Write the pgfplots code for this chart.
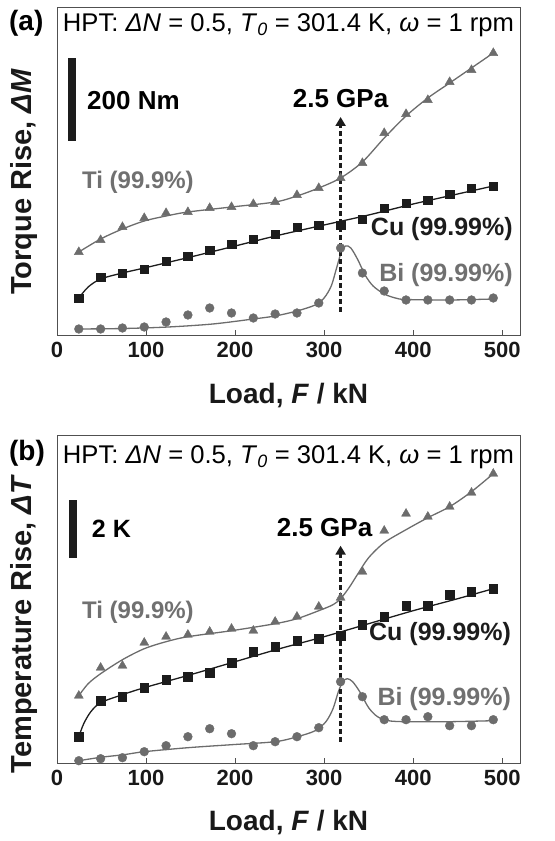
\documentclass[border=0pt]{standalone}
\usepackage{fontspec}
\setmainfont{Liberation Sans}
\usepackage{pgfplots}
\pgfplotsset{compat=1.18}
\usetikzlibrary{arrows.meta}
\definecolor{tigray}{RGB}{108,108,108}
\definecolor{txtgray}{RGB}{112,112,112}
\definecolor{cublack}{RGB}{28,28,28}
\definecolor{frame}{RGB}{80,80,80}

\tikzset{arr/.style={line width=2.2bp, cublack, dash pattern=on 5bp off 3bp, -{Triangle[length=9bp,width=10bp]}}}

\pgfplotsset{
  panel/.style={
    scale only axis, width=463bp, height=328bp,
    xmin=0, xmax=520, ymin=0, ymax=328,
    xtick={0,100,200,300,400,500}, ytick=\empty,
    tick align=inside, xtick pos=left, major tick length=6bp,
    axis line style={line width=1bp, color=frame},
    every tick/.style={line width=1bp, frame},
    tick label style={font=\fontsize{22bp}{24bp}\selectfont\bfseries, text=black!90},
    /pgf/number format/assume math mode=true,
    xticklabel style={yshift=-3bp},
    xlabel style={font=\fontsize{28bp}{30bp}\selectfont\bfseries, text=black!90,
      at={(axis description cs:0.5,-0.2043)}, anchor=base},
    ylabel style={font=\fontsize{29bp}{31bp}\selectfont\bfseries, text=black!90, anchor=base},
    clip=false,
  },
  tifit/.style={color=tigray, line width=1.3bp, smooth, no marks},
  cufit/.style={color=cublack, line width=1.3bp, smooth, no marks},
  bifit/.style={color=tigray, line width=1.3bp, smooth, no marks},
  timark/.style={only marks, mark=triangle*, mark size=5.2bp, color=tigray},
  cumark/.style={only marks, mark=square*, mark size=4.2bp, color=cublack},
  bimark/.style={only marks, mark=*, mark size=4.4bp, color=tigray},
}

\begin{document}
\begin{tikzpicture}
\useasboundingbox (0,0) rectangle (555bp,841bp);

% ---------------- panel (a) ----------------
\begin{axis}[panel, at={(57bp,505bp)}, anchor=south west,
  xlabel={Load, \textit{F} / kN},
  ylabel={Torque Rise, \textit{ΔM}},
  ylabel style={at={(axis description cs:-0.054,0.47)}}]
\addplot[tifit] coordinates {(24.5,84) (49,97) (73.5,107) (98,115) (122.5,120) (147,124) (196,129) (245,134) (269.5,140) (294,148) (318.5,158) (343,174) (367.5,198) (392,220) (416.5,238) (441,253) (465.5,268) (490,283)};
\addplot[cufit] coordinates {(24.5,38) (35,49) (49,57) (73.5,63) (98,68) (150,79) (200,90) (250,101) (300,111) (350,121) (400,132) (450,142) (490,150)};
\addplot[bifit] coordinates {(24.5,7) (75,7.5) (125,9) (175,12) (220.5,17) (245,20) (269.5,25) (290,31) (300,38) (308,50) (314,68) (319,83) (324,90) (330,88) (338,76) (346,61) (355,50) (367.5,42) (380,38) (392,36.5) (441,36) (490,37)};
\addplot[timark] coordinates {(24.5,84) (49,96) (73.5,109) (98,118) (122.5,123) (147,124) (171.5,128) (196,129) (220.5,132) (245,134) (269.5,141) (294,148) (318.5,158) (343,173) (367.5,203) (392,222) (416.5,236) (441,254) (465.5,266) (490,283)};
\addplot[cumark] coordinates {(24.5,38) (49,59) (73.5,63) (98,67) (122.5,75) (147,80) (171.5,86) (196,92) (220.5,97) (245,102) (269.5,109) (294,111) (318.5,111) (343,117) (367.5,128) (392,133) (416.5,136) (441,142) (465.5,148) (490,150)};
\addplot[bimark] coordinates {(24.5,7) (49,7) (73.5,8) (98,9) (122.5,14) (147,21) (171.5,28) (196,23) (220.5,18) (245,22) (269.5,23) (294,33) (318.5,88) (343,63) (367.5,45) (392,36) (416.5,36) (441,36) (465.5,36) (490,38)};
\draw[arr] (axis cs:318.5,24) -- (axis cs:318.5,219);
\node[anchor=base, font=\fontsize{26bp}{28bp}\selectfont\bfseries, inner sep=0] at (axis cs:318.5,228) {2.5 GPa};
\draw[line width=8bp, cublack] (axis cs:16.9,195) -- (axis cs:16.9,278);
\node[anchor=base west, font=\fontsize{26bp}{28bp}\selectfont\bfseries, inner sep=0] at (axis cs:33.7,226) {200 Nm};
\node[anchor=base west, font=\fontsize{24bp}{26bp}\selectfont\bfseries, text=txtgray, inner sep=0] at (axis cs:28,147) {Ti (99.9\%)};
\node[anchor=base east, font=\fontsize{25bp}{27bp}\selectfont\bfseries, text=cublack, inner sep=0] at (axis cs:512,100) {Cu (99.99\%)};
\node[anchor=base east, font=\fontsize{25bp}{27bp}\selectfont\bfseries, text=txtgray, inner sep=0] at (axis cs:512,54) {Bi (99.99\%)};
\node[anchor=base, font=\fontsize{25.6bp}{27bp}\selectfont, inner sep=0] at (axis cs:260,304) {HPT: \textit{Δ}\textit{N} = 0.5, \textit{T}\textsubscript{\textit{0}} = 301.4 K, \textit{ω} = 1 rpm};
\node[anchor=base west, font=\fontsize{28bp}{30bp}\selectfont\bfseries, inner sep=0] at (axis cs:-54,305) {(a)};
\end{axis}

% ---------------- panel (b) ----------------
\begin{axis}[panel, at={(57bp,77.3bp)}, anchor=south west,
  xlabel={Load, \textit{F} / kN},
  ylabel={Temperature Rise, \textit{ΔT}},
  ylabel style={at={(axis description cs:-0.054,0.425)}}]
\addplot[tifit] coordinates {(24.5,68) (35,80) (49,90) (73.5,104) (98,115) (122.5,122) (147,127) (196,133) (245,140) (269.5,145) (294,153) (310,159) (318.5,165) (328,176) (338,190) (350,206) (367.5,221) (392,234) (416.5,246) (441,257) (465.5,272) (490,290)};
\addplot[cufit] coordinates {(24.5,27) (30,40) (38,52) (49,61) (73.5,69) (98,76) (150,89) (200,102) (250,115) (300,127) (350,140) (400,153) (450,165) (490,175)};
\addplot[bifit] coordinates {(24.5,3) (50,6.5) (75,9) (98,12) (147,16) (196,19) (245,22) (270,27) (290,33) (302,42) (310,55) (316,72) (321,82) (326,85) (332,82) (340,72) (350,56) (360,47) (372,43) (392,42) (441,42) (490,43)};
\addplot[timark] coordinates {(24.5,68) (49,96) (73.5,98) (98,121) (122.5,127) (147,129) (171.5,132) (196,135) (220.5,133) (245,142) (269.5,147) (294,157) (318.5,166) (343,192) (367.5,233) (392,250) (416.5,247) (441,257) (465.5,271) (490,290)};
\addplot[cumark] coordinates {(24.5,27) (49,63) (73.5,67) (98,76) (122.5,84) (147,87) (171.5,91) (196,101) (220.5,112) (245,117) (269.5,123) (294,125) (318.5,128) (343,139) (367.5,147) (392,158) (416.5,158) (441,169) (465.5,172) (490,175)};
\addplot[bimark] coordinates {(24.5,3) (49,5) (73.5,6) (98,12) (122.5,18) (147,27) (171.5,35) (196,30) (220.5,18) (245,22) (269.5,27) (294,36) (318.5,82) (343,67) (367.5,44) (392,44) (416.5,47) (441,38) (465.5,38) (490,44)};
\draw[arr] (axis cs:318.5,22) -- (axis cs:318.5,218);
\node[anchor=base, font=\fontsize{26bp}{28bp}\selectfont\bfseries, inner sep=0] at (axis cs:300.5,227) {2.5 GPa};
\draw[line width=8bp, cublack] (axis cs:18,206) -- (axis cs:18,264);
\node[anchor=base west, font=\fontsize{25bp}{27bp}\selectfont\bfseries, inner sep=0] at (axis cs:39,226) {2 K};
\node[anchor=base west, font=\fontsize{24bp}{26bp}\selectfont\bfseries, text=txtgray, inner sep=0] at (axis cs:28,145) {Ti (99.9\%)};
\node[anchor=base east, font=\fontsize{25bp}{27bp}\selectfont\bfseries, text=cublack, inner sep=0] at (axis cs:510,123) {Cu (99.99\%)};
\node[anchor=base east, font=\fontsize{25bp}{27bp}\selectfont\bfseries, text=txtgray, inner sep=0] at (axis cs:510,58) {Bi (99.99\%)};
\node[anchor=base, font=\fontsize{25.6bp}{27bp}\selectfont, inner sep=0] at (axis cs:260,300) {HPT: \textit{Δ}\textit{N} = 0.5, \textit{T}\textsubscript{\textit{0}} = 301.4 K, \textit{ω} = 1 rpm};
\node[anchor=base west, font=\fontsize{28bp}{30bp}\selectfont\bfseries, inner sep=0] at (axis cs:-54,303) {(b)};
\end{axis}
\end{tikzpicture}
\end{document}
